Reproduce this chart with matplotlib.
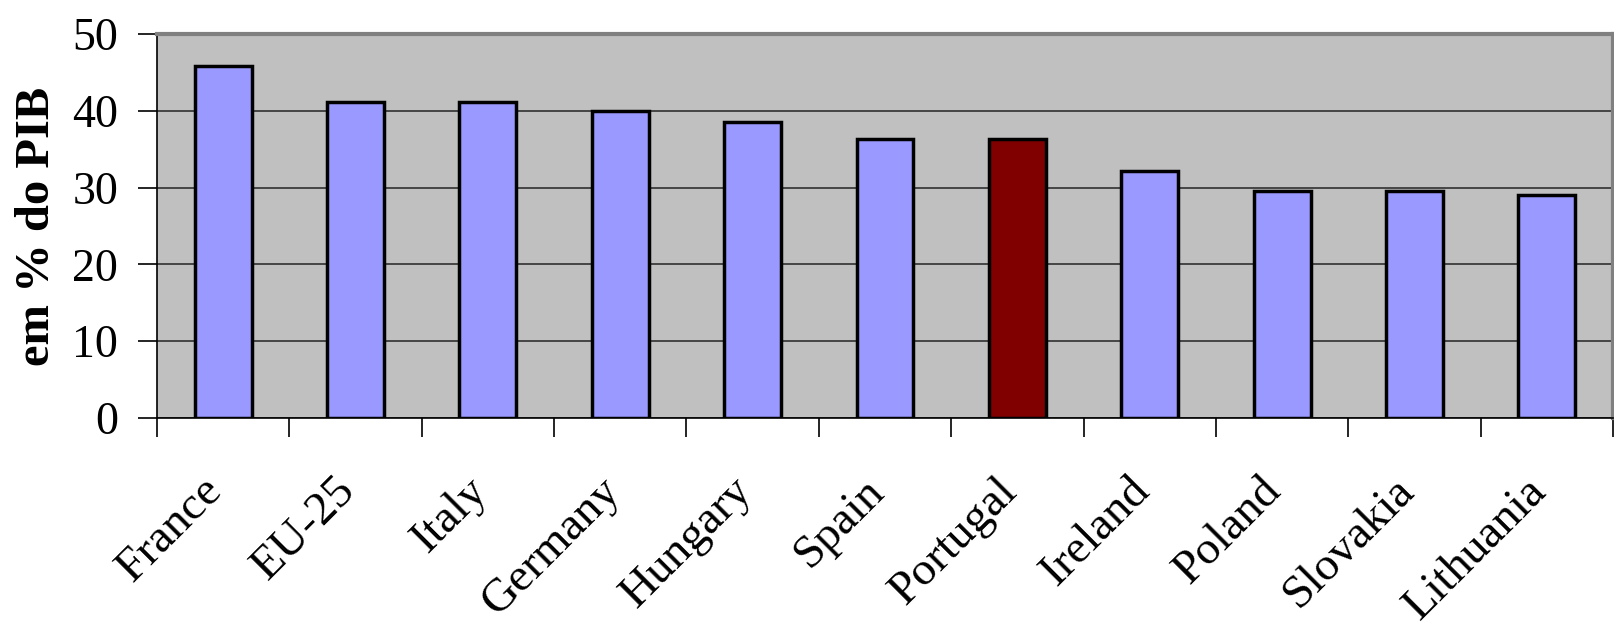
import matplotlib.pyplot as plt
import matplotlib.transforms as mtransforms
import numpy as np

countries = ['France', 'EU-25', 'Italy', 'Germany', 'Hungary', 'Spain',
             'Portugal', 'Ireland', 'Poland', 'Slovakia', 'Lithuania']
values = [45.8, 41.1, 41.1, 40.0, 38.5, 36.3, 36.3, 32.2, 29.5, 29.5, 29.0]
highlight = 'Portugal'

plt.rcParams['font.family'] = ['Liberation Serif', 'DejaVu Serif']

fig = plt.figure(figsize=(16.14, 6.27), dpi=100)
ax = fig.add_axes([157 / 1614, 209 / 627, 1456 / 1614, 384 / 627])
ax.set_facecolor('#c0c0c0')

x = np.arange(len(countries))
colors = ['#800000' if c == highlight else '#9999ff' for c in countries]
ax.bar(x, values, width=0.43, color=colors, edgecolor='black', linewidth=2.5, zorder=3)

# limits and grid
ax.set_xlim(-0.5, len(countries) - 0.5)
ax.set_ylim(0, 50)
ax.set_yticks(np.arange(0, 51, 10))
ax.yaxis.grid(True, color='#303030', linewidth=1.2, zorder=1)
ax.set_axisbelow(True)

# frame: black left/bottom, gray top/right like the excel plot area
ax.spines['left'].set_color('black')
ax.spines['bottom'].set_color('black')
ax.spines['left'].set_linewidth(1.2)
ax.spines['bottom'].set_linewidth(1.2)
for s in ['top', 'right']:
    ax.spines[s].set_color('#808080')
    ax.spines[s].set_linewidth(3)

# category ticks sit between the bars
ax.set_xticks(x)
ax.set_xticks(np.arange(-0.5, len(countries)), minor=True)
ax.tick_params(axis='x', which='major', length=0, pad=37)
ax.tick_params(axis='x', which='minor', length=14, width=1.2, color='black')
ax.set_xticklabels(countries, rotation=45, ha='right', va='top',
                   rotation_mode='anchor', fontsize=34)
# nudge the rotated labels left a bit
offset = mtransforms.ScaledTranslation(-0.22, 0, fig.dpi_scale_trans)
for lbl in ax.get_xticklabels():
    lbl.set_transform(lbl.get_transform() + offset)
ax.tick_params(axis='y', length=14, width=1.2, labelsize=33, pad=14)

ax.set_ylabel('em % do PIB', fontsize=35, fontweight='bold')
ax.yaxis.set_label_coords(-0.067, 0.5)

plt.savefig('out.png', dpi=100)
